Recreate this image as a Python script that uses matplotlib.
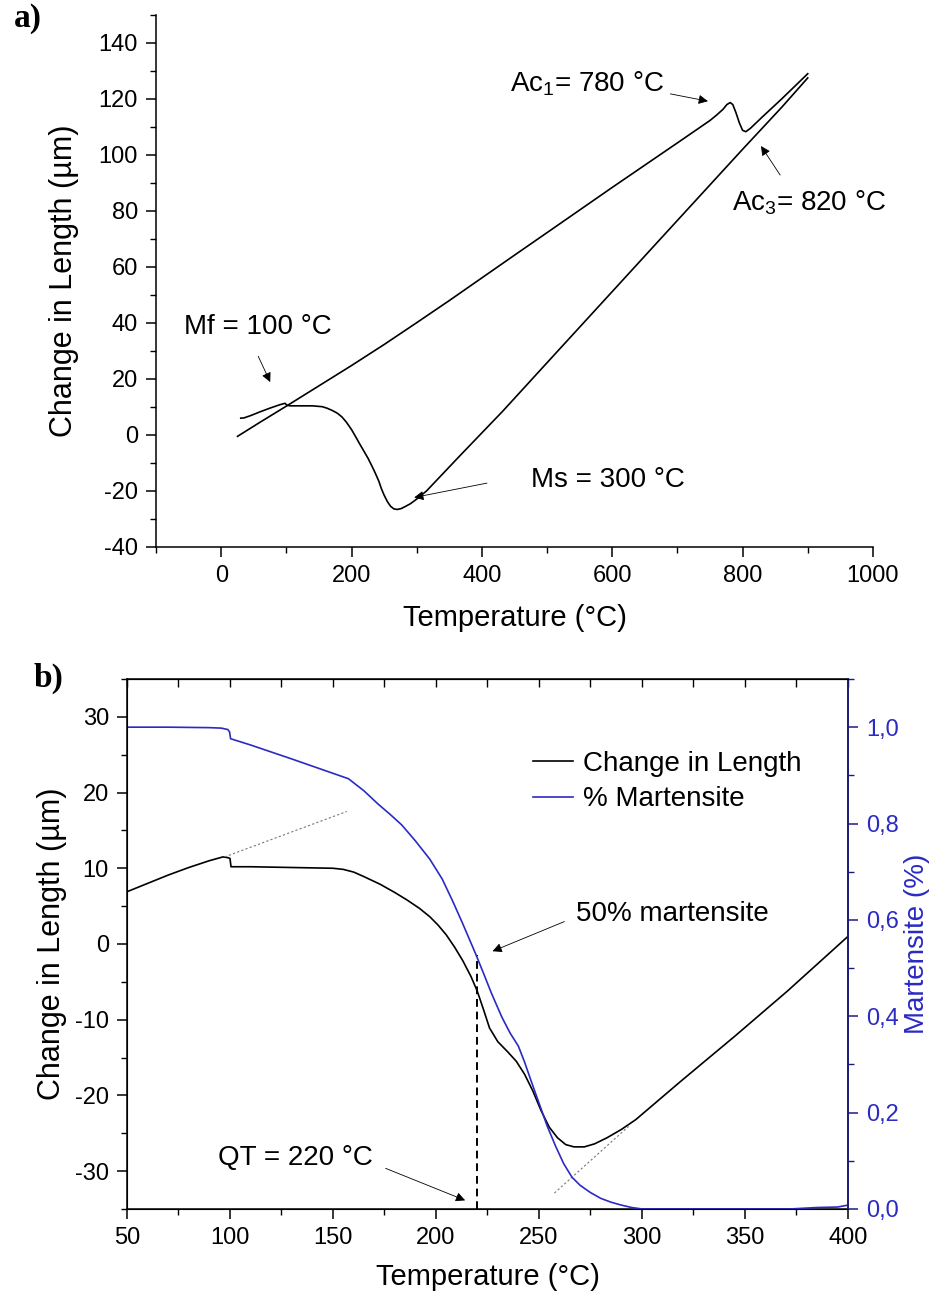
import numpy as np
import matplotlib
matplotlib.use("Agg")
import matplotlib.pyplot as plt
from matplotlib.ticker import MultipleLocator, FuncFormatter

plt.rcParams['font.family'] = ['Liberation Sans', 'DejaVu Sans']
plt.rcParams['mathtext.fontset'] = 'custom'
plt.rcParams['mathtext.rm'] = 'Liberation Sans'
plt.rcParams['mathtext.it'] = 'Liberation Sans'
plt.rcParams['axes.unicode_minus'] = False

# ---- panel a: dilatometry heating / cooling ----
heat_T = [25, 60, 100, 140, 200, 250, 300, 350, 400, 450, 504, 600, 700, 750, 760,
          770, 776, 781, 785, 790, 795, 800, 805, 812, 830, 860, 900]
heat_dL = [-0.5, 4.6, 10.3, 16.1, 24.8, 32.3, 40.1, 48, 56.1, 64.2, 72.9, 88.4,
           104.3, 112.3, 114.2, 116.3, 118, 118.7, 118, 115, 111.5, 108.8, 108.3,
           109.5, 113.5, 120, 129]

cool_T = [900, 860, 800, 683, 576, 500, 432, 368, 315, 300, 290, 282, 276, 270,
          265, 260, 255, 250, 246, 242, 236, 230, 225, 218, 212, 206, 200, 192,
          185, 178, 170, 162, 155, 140, 120, 106, 101, 98, 90, 75, 60, 45, 35, 30]
cool_dL = [127.5, 117, 102, 72.3, 45.1, 25.8, 8.5, -7, -20, -22.9, -24.6, -25.6,
           -26.3, -26.6, -26.4, -25.5, -23.8, -21.5, -19.3, -16.6, -13.4, -10.5,
           -8.2, -5.4, -3.0, -0.5, 1.9, 4.6, 6.5, 7.8, 8.8, 9.6, 10.1, 10.4, 10.4,
           10.4, 10.6, 11.3, 10.8, 9.6, 8.3, 6.9, 6.1, 6.0]

# ---- panel b: cooling detail + martensite fraction ----
b_T = [50, 60, 70, 80, 90, 96.6, 99, 100, 100.5, 102, 110, 130, 150, 155, 160,
       165, 172.8, 180, 186, 192, 197, 201, 205, 209, 213, 217, 220, 223, 226,
       230, 235, 239, 243, 247, 251, 255, 259, 263, 267, 272, 277, 283, 290, 297,
       319, 345, 370.7, 400]
b_dL = [6.9, 8.0, 9.1, 10.1, 11.0, 11.5, 11.4, 11.3, 10.2, 10.2, 10.2, 10.1, 10.0,
        9.85, 9.5, 8.9, 7.9, 6.8, 5.8, 4.7, 3.6, 2.5, 1.2, -0.4, -2.2, -4.3, -6.2,
        -8.6, -11.1, -12.9, -14.3, -15.5, -17.2, -19.4, -22.0, -24.2, -25.6, -26.5,
        -26.8, -26.8, -26.4, -25.6, -24.5, -23.2, -18.1, -12.2, -6.2, 1.0]

m_T = [50, 70, 90, 95.8, 99, 99.8, 100.3, 110, 130, 157.5, 165, 172, 178, 183.4,
       190, 197, 203, 208, 213, 219, 223, 227, 232, 236, 240, 243, 246, 250, 254,
       258, 262, 266, 270, 275, 280, 285, 290, 295, 300, 340, 372, 385, 395, 400]
m_frac = [1.0, 1.0, 0.999, 0.998, 0.995, 0.99, 0.976, 0.963, 0.934, 0.893, 0.868,
          0.84, 0.818, 0.797, 0.764, 0.726, 0.685, 0.640, 0.592, 0.532, 0.49, 0.447,
          0.398, 0.365, 0.338, 0.305, 0.268, 0.22, 0.172, 0.131, 0.094, 0.066, 0.049,
          0.034, 0.022, 0.014, 0.008, 0.003, 0.0, 0.0, 0.0, 0.003, 0.004, 0.008]

tan1_T = [97.4, 156.7]
tan1_dL = [11.5, 17.5]
tan2_T = [257.5, 293.5]
tan2_dL = [-32.9, -24.1]
qt_T = [220, 220]
qt_dL = [-35, -1.5]

blue = '#2a2ac4'
navy = '#1c1c80'
fs_tick = 17
fs_lab = 21
fs_txt = 20

fig = plt.figure(figsize=(9.31, 12.98), dpi=100)

# ---------------- a) ----------------
ax = fig.add_axes([0.1676, 0.5786, 0.770, 0.4099])
ax.plot(heat_T, heat_dL, color='k', lw=1.2)
ax.plot(cool_T, cool_dL, color='k', lw=1.2)
ax.set_xlim(-100, 1000)
ax.set_ylim(-40, 150)
ax.spines['top'].set_visible(False)
ax.spines['right'].set_visible(False)
ax.xaxis.set_major_locator(MultipleLocator(200))
ax.xaxis.set_minor_locator(MultipleLocator(100))
ax.yaxis.set_major_locator(MultipleLocator(20))
ax.yaxis.set_minor_locator(MultipleLocator(10))
ax.set_yticks(np.arange(-40, 141, 20))
ax.tick_params(which='major', direction='out', length=7, width=1.1,
               labelsize=fs_tick, pad=6)
ax.tick_params(which='minor', direction='out', length=4, width=1.0)
for s in ax.spines.values():
    s.set_linewidth(1.1)
ax.set_xlabel('Temperature (°C)', fontsize=fs_lab, labelpad=12)
ax.set_ylabel('Change in Length (µm)', fontsize=fs_lab + 1, labelpad=14)

arr = dict(arrowstyle='-|>', color='k', lw=0.6, mutation_scale=14)
ax.text(561, 125.5, r'Ac$_1$= 780 °C', fontsize=fs_txt, ha='center', va='center')
ax.annotate('', xy=(751, 119), xytext=(685, 122), arrowprops=arr)
ax.text(902, 83, r'Ac$_3$= 820 °C', fontsize=fs_txt, ha='center', va='center')
ax.annotate('', xy=(826, 104), xytext=(860, 92), arrowprops=arr)
ax.text(57, 38.6, 'Mf = 100 °C', fontsize=fs_txt, ha='center', va='center')
ax.annotate('', xy=(77, 18), xytext=(55, 29), arrowprops=arr)
ax.text(594, -16, 'Ms = 300 °C', fontsize=fs_txt, ha='center', va='center')
ax.annotate('', xy=(292, -22.5), xytext=(412, -17), arrowprops=arr)

fig.text(0.015, 0.986, 'a)', fontsize=24, fontweight='bold',
         family='Liberation Serif', va='center')

# ---------------- b) ----------------
bx = fig.add_axes([0.1364, 0.0686, 0.7744, 0.4083])
bx.plot(b_T, b_dL, color='k', lw=1.2, label='Change in Length')
bx.plot(tan1_T, tan1_dL, color='#777777', lw=0.8, ls=(0, (2, 2)))
bx.plot(tan2_T, tan2_dL, color='#777777', lw=0.8, ls=(0, (2, 2)))
bx.plot(qt_T, qt_dL, color='k', lw=1.4, ls=(0, (4, 2.5)))
bx.set_xlim(50, 400)
bx.set_ylim(-35, 35)
bx.xaxis.set_major_locator(MultipleLocator(50))
bx.xaxis.set_minor_locator(MultipleLocator(25))
bx.yaxis.set_major_locator(MultipleLocator(10))
bx.yaxis.set_minor_locator(MultipleLocator(5))
bx.set_yticks(np.arange(-30, 31, 10))
bx.tick_params(which='major', direction='out', length=7, width=1.1,
               labelsize=fs_tick, pad=6)
bx.tick_params(which='minor', direction='out', length=4, width=1.0)
for s in bx.spines.values():
    s.set_linewidth(1.1)
bx.set_xlabel('Temperature (°C)', fontsize=fs_lab, labelpad=10)
bx.set_ylabel('Change in Length (µm)', fontsize=fs_lab + 1, labelpad=6)

# inward ticks on the top edge
top = bx.secondary_xaxis('top')
top.xaxis.set_major_locator(MultipleLocator(25))
top.tick_params(direction='in', length=6, width=1.0, labeltop=False)
top.set_xticklabels([])

rx = bx.twinx()
rx.plot(m_T, m_frac, color=blue, lw=1.2, label='% Martensite')
rx.set_ylim(0, 1.1)
rx.yaxis.set_major_locator(MultipleLocator(0.2))
rx.yaxis.set_minor_locator(MultipleLocator(0.1))
rx.set_yticks(np.arange(0, 1.01, 0.2))
rx.yaxis.set_major_formatter(FuncFormatter(lambda v, p: f'{v:.1f}'.replace('.', ',')))
rx.tick_params(which='major', direction='out', length=7, width=1.1,
               labelsize=fs_tick, colors=navy, labelcolor=blue, pad=6)
rx.tick_params(which='minor', direction='out', length=4, width=1.0, colors=navy)
rx.spines['right'].set_color(navy)
rx.spines['right'].set_linewidth(1.3)
rx.set_ylabel('Martensite (%)', fontsize=fs_txt, color=blue, labelpad=4)

h1, l1 = bx.get_legend_handles_labels()
h2, l2 = rx.get_legend_handles_labels()
rx.legend(h1 + h2, l1 + l2, loc='upper left', bbox_to_anchor=(0.563, 0.865),
          frameon=False, fontsize=fs_txt, handlelength=1.45, handletextpad=0.35,
          borderpad=0, borderaxespad=0, labelspacing=0.35)

arr2 = dict(arrowstyle='-|>', color='k', lw=0.6, mutation_scale=14)
bx.text(314.6, 4.0, '50% martensite', fontsize=fs_txt, ha='center', va='center')
bx.annotate('', xy=(226.2, -1.1), xytext=(263.6, 3.1), arrowprops=arr2)
bx.text(132, -28.3, 'QT = 220 °C', fontsize=fs_txt, ha='center', va='center')
bx.annotate('', xy=(215.4, -34), xytext=(174.3, -29.5), arrowprops=arr2)

fig.text(0.036, 0.477, 'b)', fontsize=24, fontweight='bold',
         family='Liberation Serif', va='center')

fig.savefig('out.png', dpi=100)
